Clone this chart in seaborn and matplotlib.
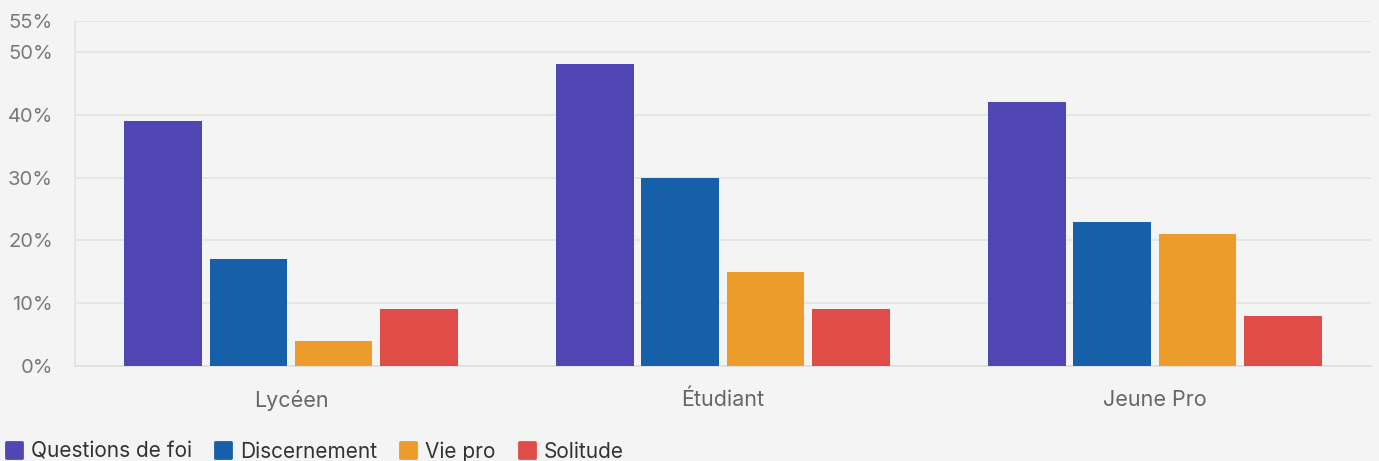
import pandas as pd
import matplotlib.pyplot as plt
import seaborn as sns
from matplotlib.lines import Line2D
from matplotlib.markers import MarkerStyle

categories = ['Lycéen', 'Étudiant', 'Jeune Pro']
series = ['Questions de foi', 'Discernement', 'Vie pro', 'Solitude']
questions_foi = [39, 48, 42]
discernement = [17, 30, 23]
vie_pro = [4, 15, 21]
solitude = [9, 9, 8]
yticks = [0, 10, 20, 30, 40, 50, 55]
colors = ['#5047b4', '#1560a8', '#eb9c2a', '#e04c47']

rows = []
for name, vals in zip(series, [questions_foi, discernement, vie_pro, solitude]):
    for c, v in zip(categories, vals):
        rows.append({'cat': c, 'serie': name, 'val': v})
df = pd.DataFrame(rows)

sns.set_style('white')
plt.rcParams['font.family'] = ['Inter', 'DejaVu Sans']

fig = plt.figure(figsize=(13.79, 4.61), dpi=100, facecolor='#f4f4f4')
ax = fig.add_axes([0.0544, 0.206, 0.9396, 0.7495])
ax.set_facecolor('#f4f4f4')

sns.barplot(data=df, x='cat', y='val', hue='serie', order=categories, hue_order=series,
            palette=colors, width=0.79, gap=0.09, saturation=1, ax=ax, legend=False,
            edgecolor='none', zorder=3)

ax.set_ylim(0, 55)
ax.set_xlim(-0.5, 2.5)
ax.set_yticks(yticks)
ax.set_yticklabels([f'{t}%' for t in yticks])
ax.yaxis.grid(True, color='#e6e6e1', linewidth=1.3, zorder=0)
ax.set_axisbelow(True)
ax.tick_params(axis='y', length=14, width=1.3, color='#e6e6e1', labelsize=14.5, labelcolor='#7a7a75', pad=2)
ax.tick_params(axis='x', length=0, labelsize=15.5, labelcolor='#666662', pad=17)
ax.set_xlabel('')
ax.set_ylabel('')
for s in ['top', 'right']:
    ax.spines[s].set_visible(False)
ax.spines['left'].set_color('#e6e6e1')
ax.spines['left'].set_linewidth(1.3)
ax.spines['bottom'].set_color('#e0e0db')
ax.spines['bottom'].set_linewidth(1.3)

sq = MarkerStyle('s', joinstyle='round')
handles = [Line2D([0], [0], marker=sq, linestyle='', markersize=11, markerfacecolor=c,
                  markeredgecolor=c, markeredgewidth=2) for c in colors]
fig.legend(handles, series, loc='lower left', bbox_to_anchor=(-0.01, -0.042), ncol=4,
           frameon=False, fontsize=15, handletextpad=0.35, columnspacing=1.05,
           handlelength=0.9, labelcolor='#333333')

fig.savefig('out.png', dpi=100, facecolor='#f4f4f4')
